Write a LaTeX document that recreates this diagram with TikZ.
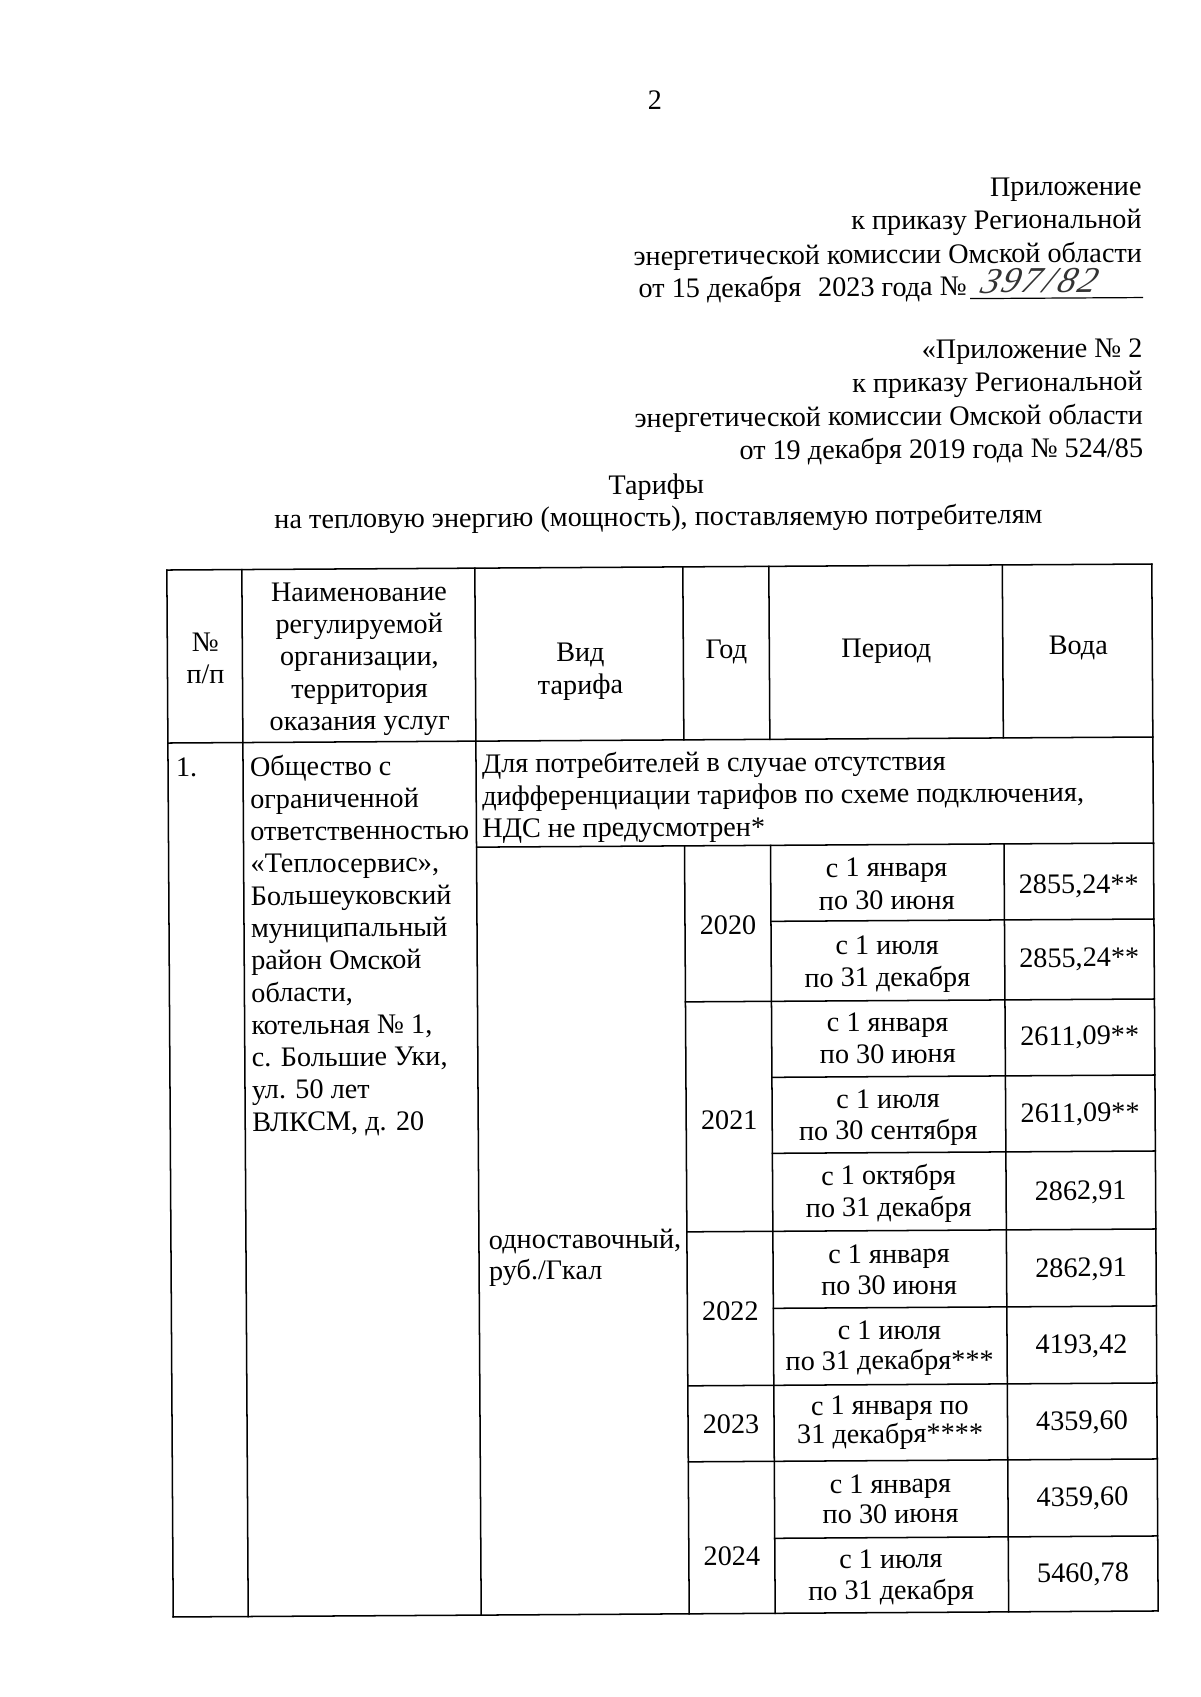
\documentclass[tikz,border=0pt]{standalone}
\usepackage{fontspec}
\setmainfont{Liberation Serif}
\begin{document}
\begin{tikzpicture}[x=0.496pt,y=-0.496pt,
  txt/.style={inner sep=0pt, outer sep=0pt, font=\fontsize{14}{16}\selectfont, anchor=base, transform shape},
  txtl/.style={txt, anchor=base west},
  txtr/.style={txt, anchor=base east},
  rule/.style={line width=0.75pt, black, line cap=rect}]
\useasboundingbox[fill=white] (0,0) rectangle (1200,1697);
\begin{scope}[rotate around={0.35:(660,1090)}]
% page number
\node[txt] (pg) at (661,109.5) {2};
% header block 1
\node[txtr] (a1) at (1147,198) {Приложение};
\node[txtr] (a2) at (1147,231) {к приказу Региональной};
\node[txtr] (a3) at (1147,265) {энергетической комиссии Омской области};
\node[txtl] (a4) at (643.5,297.5) {от 15 декабря\hspace{0.6em}2023 года №};
\node[txtl, font=\fontsize{18}{18}\selectfont\itshape, xslant=0.3, text=black!80] (hw) at (984,295) {3\kern1pt9\kern1pt7\kern2pt/\kern2pt8\kern1pt2};
\coordinate (u1) at (975,300.5);
\coordinate (u2) at (1148,300.5);
\draw[line width=0.6pt] (u1) -- (u2);
% header block 2
\node[txtr] (b1) at (1147,360.5) {«Приложение № 2};
\node[txtr] (b2) at (1147,393.5) {к приказу Региональной};
\node[txtr] (b3) at (1147,427) {энергетической комиссии Омской области};
\node[txtr] (b4) at (1147,460) {от 19 декабря 2019 года № 524/85};
% title
\node[txt] (t1) at (660,494) {Тарифы};
\node[txt] (t2) at (662,526) {на тепловую энергию (мощность), поставляемую потребителям};

% ---------- table grid ----------
% horizontal lines
\draw[rule] (170,567) -- (1155,567);
\draw[rule] (170,740) -- (1155,740);
\draw[rule] (478,846) -- (1155,846);
\draw[rule] (772,922) -- (1155,922);
\draw[rule] (686,1002) -- (1155,1002);
\draw[rule] (772,1078) -- (1155,1078);
\draw[rule] (772,1154) -- (1155,1154);
\draw[rule] (686,1232) -- (1155,1232);
\draw[rule] (772,1309) -- (1155,1309);
\draw[rule] (686,1386) -- (1155,1386);
\draw[rule] (686,1462) -- (1155,1462);
\draw[rule] (772,1539) -- (1155,1539);
\draw[rule] (170,1614) -- (1155,1614);
% vertical lines
\draw[rule] (170,567) -- (170,1614);
\draw[rule] (245,567) -- (245,1614);
\draw[rule] (478,567) -- (478,1614);
\draw[rule] (686,567) -- (686,740);
\draw[rule] (772,567) -- (772,740);
\draw[rule] (1005.5,567) -- (1005.5,740);
\draw[rule] (686,846) -- (686,1614);
\draw[rule] (772,846) -- (772,1614);
\draw[rule] (1005.5,846) -- (1005.5,1614);
\draw[rule] (1155,567) -- (1155,1614);

% ---------- header row ----------
\node[txt] (h1a) at (208,649) {№};
\node[txt] (h1b) at (208,681) {п/п};
\node[txt] (h2a) at (362,599.5) {Наименование};
\node[txt] (h2b) at (362,631.5) {регулируемой};
\node[txt] (h2c) at (362,663.5) {организации,};
\node[txt] (h2d) at (362,696) {территория};
\node[txt] (h2e) at (362,728) {оказания услуг};
\node[txt] (h3a) at (583,661) {Вид};
\node[txt] (h3b) at (583,693.5) {тарифа};
\node[txt] (h4) at (729,659) {Год};
\node[txt] (h5) at (889,659) {Период};
\node[txt] (h6) at (1081,657) {Вода};

% ---------- row 1 ----------
\node[txtl] (n1) at (178,774) {1.};
\node[txtl] (o1) at (252,773.5) {Общество с};
\node[txtl] (o2) at (252,805.8) {ограниченной};
\node[txtl] (o3) at (252,838.1) {ответственностью};
\node[txtl] (o4) at (252,870.4) {«Теплосервис»,};
\node[txtl] (o5) at (252,902.7) {Большеуковский};
\node[txtl] (o6) at (252,935) {муниципальный};
\node[txtl] (o7) at (252,967.3) {район Омской};
\node[txtl] (o8) at (252,999.6) {области,};
\node[txtl] (o9) at (252,1031.9) {котельная № 1,};
\node[txtl] (o10) at (252,1064.2) {с. Большие Уки,};
\node[txtl] (o11) at (252,1096.5) {ул. 50 лет};
\node[txtl] (o12) at (252,1128.8) {ВЛКСМ, д. 20};

\node[txtl] (d1) at (484,772) {Для потребителей в случае отсутствия};
\node[txtl] (d2) at (484,804.3) {дифференциации тарифов по схеме подключения,};
\node[txtl] (d3) at (484,836.6) {НДС не предусмотрен*};

\node[txtl] (v1) at (488,1248) {одноставочный,};
\node[txtl] (v2) at (488,1279) {руб./Гкал};

% years
\node[txt] (y20) at (729,935) {2020};
\node[txt] (y21) at (729,1130) {2021};
\node[txt] (y22) at (729,1321) {2022};
\node[txt] (y23) at (729,1434) {2023};
\node[txt] (y24) at (729,1566) {2024};

% periods and values
\node[txt] (pA1) at (888,878) {с 1 января};
\node[txt] (pA2) at (888,911) {по 30 июня};
\node[txt] (vA) at (1080,896) {2855,24**};

\node[txt] (pB1) at (888,956) {с 1 июля};
\node[txt] (pB2) at (888,988) {по 31 декабря};
\node[txt] (vB) at (1080,969.5) {2855,24**};

\node[txt] (pC1) at (888,1033) {с 1 января};
\node[txt] (pC2) at (888,1064.5) {по 30 июня};
\node[txt] (vC) at (1080,1047.5) {2611,09**};

\node[txt] (pD1) at (888,1109.5) {с 1 июля};
\node[txt] (pD2) at (888,1141) {по 30 сентября};
\node[txt] (vD) at (1080,1124.5) {2611,09**};

\node[txt] (pE1) at (888,1186) {с 1 октября};
\node[txt] (pE2) at (888,1218) {по 31 декабря};
\node[txt] (vE) at (1080,1202.5) {2862,91};

\node[txt] (pF1) at (888,1264.5) {с 1 января};
\node[txt] (pF2) at (888,1296) {по 30 июня};
\node[txt] (vF) at (1080,1279.5) {2862,91};

\node[txt] (pG1) at (888,1341) {с 1 июля};
\node[txt] (pG2) at (888,1371) {по 31 декабря***};
\node[txt] (vG) at (1080,1356) {4193,42};

\node[txt] (pH1) at (888,1416) {с 1 января по};
\node[txt] (pH2) at (888,1444.5) {31 декабря****};
\node[txt] (vH) at (1080,1432.5) {4359,60};

\node[txt] (pI1) at (888,1494.5) {с 1 января};
\node[txt] (pI2) at (888,1524.5) {по 30 июня};
\node[txt] (vI) at (1080,1508.5) {4359,60};

\node[txt] (pJ1) at (888,1569.5) {с 1 июля};
\node[txt] (pJ2) at (888,1601) {по 31 декабря};
\node[txt] (vJ) at (1080,1584.5) {5460,78};
\end{scope}
\end{tikzpicture}
\end{document}
